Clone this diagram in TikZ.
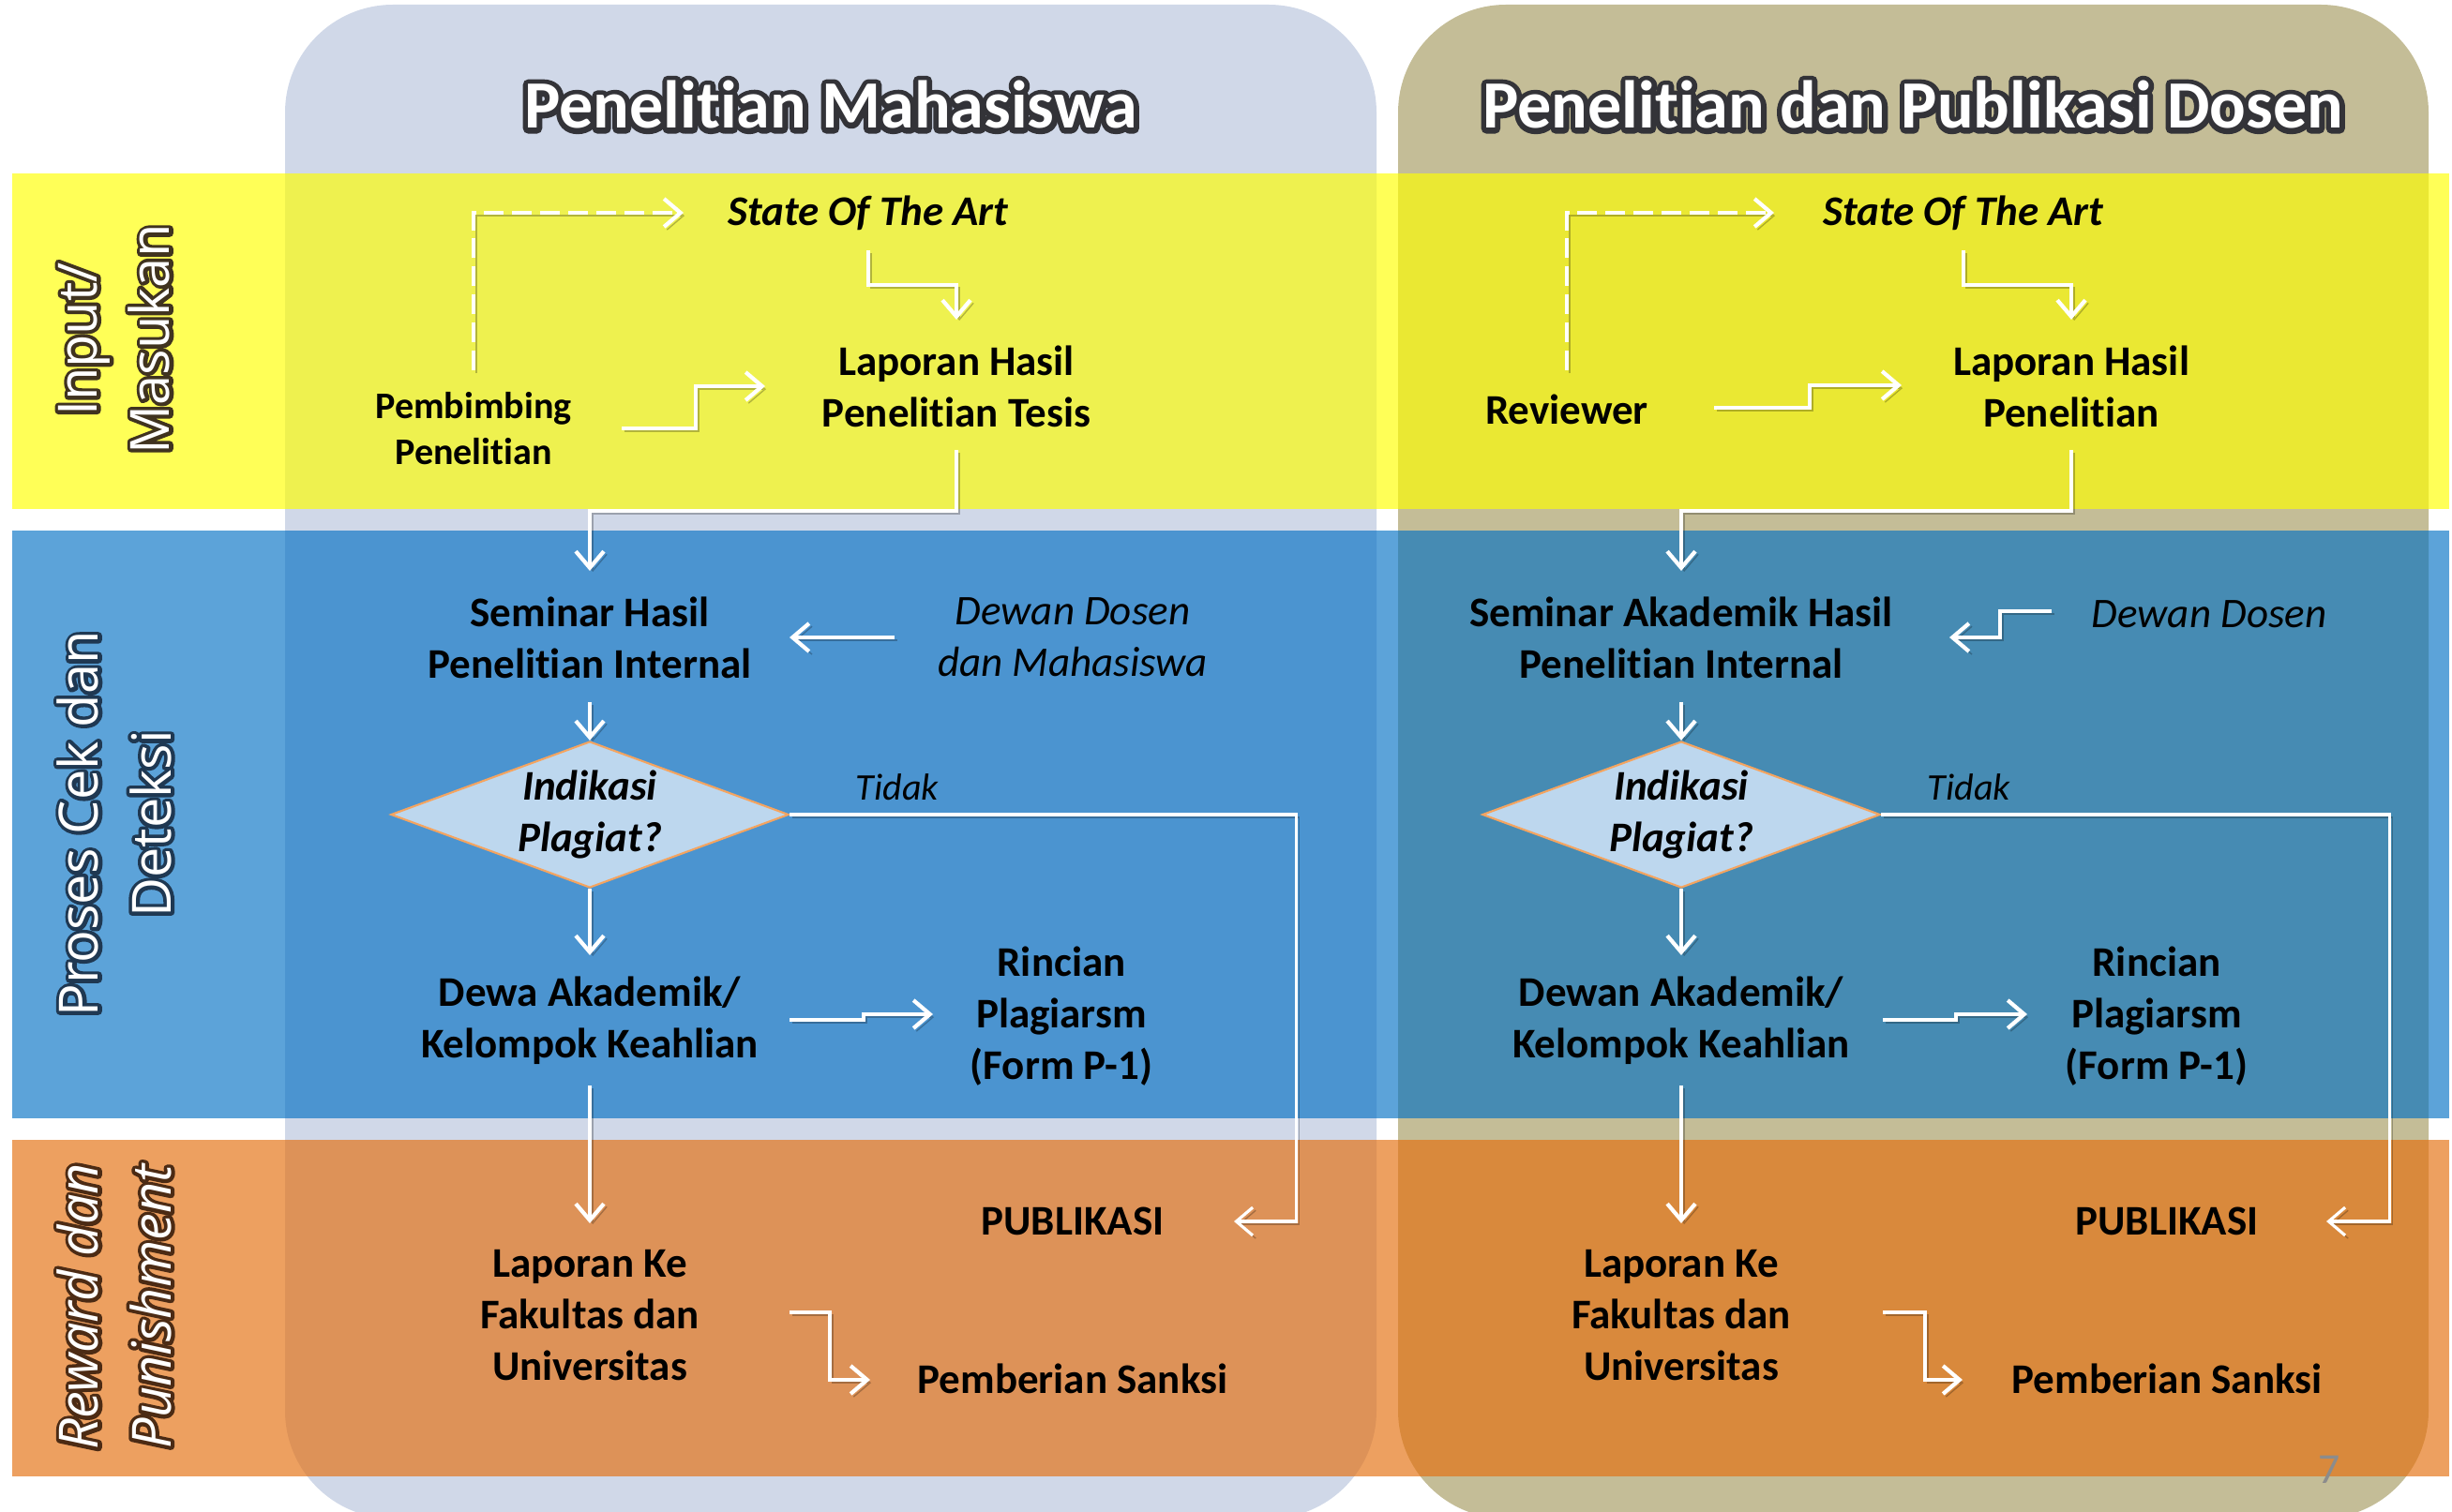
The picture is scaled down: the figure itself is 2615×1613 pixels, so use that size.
\documentclass[tikz,border=0pt]{standalone}
\usepackage{fontspec}
\setmainfont{Carlito}[Ligatures=NoCommon]
\newfontfamily\lanefont{Open Sans}
\usetikzlibrary{shapes.geometric, arrows.meta, calc}

\definecolor{colMhs}{RGB}{208,216,232}
\definecolor{colDsn}{RGB}{196,189,151}
\definecolor{bandIn}{RGB}{255,255,0}
\definecolor{bandCek}{RGB}{0,111,196}
\definecolor{bandRwd}{RGB}{228,111,14}
\definecolor{diaFill}{RGB}{189,215,238}
\definecolor{diaLine}{RGB}{244,164,96}

% dark halo round white text
\newcommand{\haloon}[2]{\special{pdf:literal direct 1 Tr #1 w 1 j 1 J #2 RG}}
\newcommand{\halooff}{\special{pdf:literal direct 0 Tr}}
\newcommand{\halotext}[3]{\rlap{\haloon{#1}{#2}#3\halooff}#3}

\begin{document}
\begin{tikzpicture}[x=0.01cm, y=-0.01cm,
    >={Straight Barb[length=5pt,width=8.5pt]},
    flow/.style={->, white, line width=1.2pt, preaction={draw=black, opacity=0.25, transform canvas={shift={(0.9pt,-0.9pt)}}}},
    hint/.style={flow, dash pattern=on 6pt off 2.5pt},
    stage/.style={inner sep=0pt, align=center, font=\fontsize{12.8}{15.6}\selectfont\bfseries},
    stageit/.style={stage, font=\fontsize{12.8}{15.6}\selectfont\bfseries\itshape},
    side/.style={stage, font=\fontsize{12.8}{15.6}\selectfont\itshape},
    small/.style={stage, font=\fontsize{11.4}{14}\selectfont\bfseries},
    note/.style={inner sep=0pt, font=\fontsize{11.4}{14}\selectfont\itshape},
    decision/.style={diamond, draw=diaLine, fill=diaFill, line width=0.6pt, minimum width=4.24cm, minimum height=1.56cm, inner sep=0pt},
    headtext/.style={anchor=base, inner sep=0pt, text=white, font=\fontsize{20.5}{25}\selectfont\bfseries},
    lane/.style={rotate=90, inner sep=0pt, align=center, text=white, font=\lanefont\fontsize{16.4}{22}\selectfont}
]
\useasboundingbox (0,0) rectangle (2615,1613);

% Columns and bands
\fill[colMhs, rounded corners=1.15cm] (304,5) rectangle (1468,1620);
\fill[colDsn, rounded corners=1.15cm] (1491,5) rectangle (2590,1620);
\fill[bandIn, opacity=0.66] (13,185) rectangle (2612,543);
\fill[bandCek, opacity=0.64] (13,566) rectangle (2612,1193);
\fill[bandRwd, opacity=0.66] (13,1216) rectangle (2612,1575);

% Lane labels
\node[lane] (inL) at (122,362) {\halotext{2.2}{0.25 0.2 0.12}{Input/}\\\halotext{2.2}{0.25 0.2 0.12}{Masukan}};
\node[lane] (cekL) at (122,879) {\halotext{2.2}{0.12 0.22 0.32}{Proses Cek dan}\\\halotext{2.2}{0.12 0.22 0.32}{Deteksi}};
\node[lane, font=\lanefont\fontsize{16.4}{22}\selectfont\itshape] (rwdL) at (122,1394) {\halotext{2.2}{0.3 0.17 0.08}{Reward dan}\\\halotext{2.2}{0.3 0.17 0.08}{Punishment}};

% Titles
\node[headtext] (ttlM) at (886,137) {\halotext{3.2}{0.2 0.2 0.22}{Penelitian Mahasiswa}};
\node[headtext] (ttlD) at (2040,137) {\halotext{3.2}{0.2 0.2 0.22}{Penelitian dan Publikasi Dosen}};

% Nodes, student side
\node[stageit] (soaL) at (926,227) {State Of The Art};
\node[stage] (lapL) at (1020,412) {Laporan Hasil\\Penelitian Tesis};
\node[small] (pemL) at (505,457) {Pembimbing\\Penelitian};
\node[stage] (semL) at (629,680) {Seminar Hasil\\Penelitian Internal};
\node[side] (dewL) at (1144,680) {Dewan Dosen\\dan Mahasiswa};
\node[decision] (indL) at (629,869) {};
\node[stageit] (indtL) at (indL) {Indikasi\\Plagiat?};
\node[note] (tdkL) at (957,840) {Tidak};
\node[stage] (akdL) at (629,1089) {Dewa Akademik/\\Kelompok Keahlian};
\node[stage] (rinL) at (1132,1084) {Rincian\\Plagiarsm\\(Form P-1)};
\node[stage] (pubL) at (1144,1303) {PUBLIKASI};
\node[stage] (fakL) at (629,1403) {Laporan Ke\\Fakultas dan\\Universitas};
\node[stage] (sanL) at (1144,1471) {Pemberian Sanksi};

% Nodes, lecturer side
\node[stageit] (soaR) at (2094,227) {State Of The Art};
\node[stage] (lapR) at (2209,412) {Laporan Hasil\\Penelitian};
\node[stage] (revR) at (1671,437) {Reviewer};
\node[stage] (semR) at (1793,680) {Seminar Akademik Hasil\\Penelitian Internal};
\node[side] (dewR) at (2356,655) {Dewan Dosen};
\node[decision] (indR) at (1793,869) {};
\node[stageit] (indtR) at (indR) {Indikasi\\Plagiat?};
\node[note] (tdkR) at (2100,840) {Tidak};
\node[stage] (akdR) at (1793,1089) {Dewan Akademik/\\Kelompok Keahlian};
\node[stage] (rinR) at (2300,1084) {Rincian\\Plagiarsm\\(Form P-1)};
\node[stage] (pubR) at (2311,1303) {PUBLIKASI};
\node[stage] (fakR) at (1793,1403) {Laporan Ke\\Fakultas dan\\Universitas};
\node[stage] (sanR) at (2311,1471) {Pemberian Sanksi};

\node[text=black!45, font=\fontsize{13}{15}\selectfont] (pgno) at (2484,1568) {7};

% Edges, student side
\draw[hint] ($(pemL.center)+(0,-62)$) |- ($(soaL.center)+(-197,0)$);
\draw[flow] ($(soaL.center)+(0,40)$) -- ++(0,37) -| ($(lapL.center)+(0,-71)$);
\draw[flow] ($(pemL.center)+(158,0)$) -- ++(79,0) |- ($(lapL.center)+(-204,0)$);
\draw[flow] ($(lapL.center)+(0,68)$) -- ++(0,65) -| ($(semL.center)+(0,-71)$);
\draw[flow] ($(dewL.center)+(-190,0)$) -- ($(semL.center)+(213,0)$);
\draw[flow] ($(semL.center)+(0,69)$) -- (indL.north);
\draw[flow, line width=0.9pt] (indL.east) -- ++(540,0) |- ($(pubL.center)+(172,0)$);
\draw[flow] (indL.south) -- ($(akdL.center)+(0,-70)$);
\draw[flow] ($(akdL.center)+(213,-1)$) -- ++(79,0) |- ($(rinL.center)+(-137,-2)$);
\draw[flow] ($(akdL.center)+(0,69)$) -- ($(fakL.center)+(0,-98)$);
\draw[flow] ($(fakL.center)+(213,-3)$) -- ++(43,0) |- ($(sanL.center)+(-216,1)$);

% Edges, lecturer side
\draw[hint] ($(revR.center)+(0,-42)$) |- ($(soaR.center)+(-202,0)$);
\draw[flow] ($(soaR.center)+(0,40)$) -- ++(0,37) -| ($(lapR.center)+(0,-71)$);
\draw[flow] ($(revR.center)+(157,-2)$) -- ++(102,0) |- ($(lapR.center)+(-181,-1)$);
\draw[flow] ($(lapR.center)+(0,68)$) -- ++(0,65) -| ($(semR.center)+(0,-71)$);
\draw[flow] ($(dewR.center)+(-168,-3)$) -- ++(-55,0) |- ($(semR.center)+(286,0)$);
\draw[flow] ($(semR.center)+(0,69)$) -- (indR.north);
\draw[flow, line width=0.9pt] (indR.east) -- ++(542,0) |- ($(pubR.center)+(170,0)$);
\draw[flow] (indR.south) -- ($(akdR.center)+(0,-70)$);
\draw[flow] ($(akdR.center)+(215,-1)$) -- ++(78,0) |- ($(rinR.center)+(-138,-2)$);
\draw[flow] ($(akdR.center)+(0,69)$) -- ($(fakR.center)+(0,-98)$);
\draw[flow] ($(fakR.center)+(215,-3)$) -- ++(45,0) |- ($(sanR.center)+(-218,1)$);
\end{tikzpicture}
\end{document}
